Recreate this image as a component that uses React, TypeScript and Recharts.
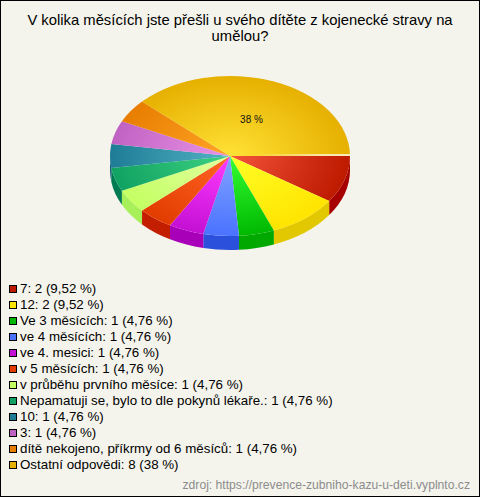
import { PieChart, Pie, Legend } from "recharts";

const categories = [
  "7", "12", "Ve 3 měsících", "ve 4 měsících", "ve 4. mesici", "v 5 měsících",
  "v průběhu prvního měsíce", "Nepamatuji se, bylo to dle pokynů lékaře.", "10", "3",
  "dítě nekojeno, příkrmy od 6 měsíců", "Ostatní odpovědi",
];
const values = [2, 2, 1, 1, 1, 1, 1, 1, 1, 1, 1, 8];
const percents = ["9,52", "9,52", "4,76", "4,76", "4,76", "4,76", "4,76", "4,76", "4,76", "4,76", "4,76", "38"];

const rimColors = ["#bd1a00", "#ffe400", "#00b800", "#4a72ff", "#c410d4", "#e23c00", "#c4ff62", "#10a262", "#1f7c96", "#c062c2", "#e87e00", "#e6b000"];
const coreColors = ["#f4543a", "#ffff26", "#34ff34", "#82a4ff", "#ff3cff", "#ff6626", "#e2ffa2", "#3ed282", "#52b2c4", "#ea94e8", "#ffa428", "#ffe236"];
const wallColors = ["#a60000", "#e2c800", "#00a800", "#2a50dc", "#a800b8", "#c41e00", "#a8f05a", "#007a50", "#105a78", "#9a4aa0", "#c86400", "#c89800"];

const tableData = categories.map((name, idx) => ({ name, value: values[idx], idx }));

const FONT = "'Liberation Sans', Arial, sans-serif";
const SQUASH = 0.667;
const DEPTH = 14;

function point(cx: number, cy: number, r: number, deg: number) {
  const a = (deg * Math.PI) / 180;
  return { x: cx + r * Math.cos(a), y: cy + r * SQUASH * Math.sin(a) };
}

// recharts angles run counter-clockwise, flip to clockwise screen degrees
function SliceShape(props: any) {
  const { cx, cy, outerRadius, startAngle, endAngle } = props;
  const idx = props.idx ?? props.payload?.idx ?? 0;
  const r = outerRadius;
  const a0 = Math.min(-startAngle, -endAngle);
  const a1 = Math.max(-startAngle, -endAngle);
  const p0 = point(cx, cy, r, a0);
  const p1 = point(cx, cy, r, a1);
  const large = a1 - a0 > 180 ? 1 : 0;
  const ry = r * SQUASH;
  const top = `M${cx},${cy} L${p0.x},${p0.y} A${r},${ry} 0 ${large} 1 ${p1.x},${p1.y} Z`;

  // side wall only shows on the front half
  const w0 = Math.max(a0, 0);
  const w1 = Math.min(a1, 180);
  let wall = null;
  if (w1 > w0) {
    const q0 = point(cx, cy, r, w0);
    const q1 = point(cx, cy, r, w1);
    wall = (
      <path
        d={`M${q0.x},${q0.y} A${r},${ry} 0 0 1 ${q1.x},${q1.y} L${q1.x},${q1.y + DEPTH} A${r},${ry} 0 0 0 ${q0.x},${q0.y + DEPTH} Z`}
        fill={wallColors[idx]}
      />
    );
  }
  const gradId = `slice-${idx}`;
  const isLast = idx === values.length - 1;
  return (
    <g>
      <defs>
        <radialGradient
          id={gradId}
          gradientUnits="userSpaceOnUse"
          cx={cx}
          cy={cy}
          r={r}
          gradientTransform={`translate(${cx} ${cy}) scale(1 ${SQUASH}) translate(${-cx} ${-cy})`}
        >
          <stop offset="0%" stopColor={coreColors[idx]} />
          <stop offset="100%" stopColor={rimColors[idx]} />
        </radialGradient>
        {isLast && (
          <linearGradient id="gapLine" gradientUnits="userSpaceOnUse" x1={cx + r * 0.2} y1={0} x2={cx + r} y2={0}>
            <stop offset="0%" stopColor="#fff" stopOpacity={0} />
            <stop offset="70%" stopColor="#fff" stopOpacity={0.85} />
            <stop offset="100%" stopColor="#fff" stopOpacity={1} />
          </linearGradient>
        )}
      </defs>
      {wall}
      <path d={top} fill={`url(#${gradId})`} />
      {isLast && <line x1={cx + r * 0.2} y1={cy - 1} x2={cx + r} y2={cy - 1} stroke="url(#gapLine)" strokeWidth={1.3} />}
    </g>
  );
}

function SliceLabel(props: any) {
  const { cx, cy, outerRadius, midAngle } = props;
  const idx = props.idx ?? props.payload?.idx ?? 0;
  if (idx !== values.length - 1) return null;
  const a = (midAngle * Math.PI) / 180;
  const x = cx + outerRadius * 0.49 * Math.cos(a);
  const y = cy - outerRadius * 0.49 * SQUASH * Math.sin(a);
  return (
    <text x={x} y={y} textAnchor="middle" dominantBaseline="central" fontFamily={FONT} fontSize={10} fill="#111">
      {percents[idx]} %
    </text>
  );
}

function LegendList() {
  return (
    <div style={{ fontFamily: FONT, fontSize: 13.33, color: "#000", lineHeight: "16px" }}>
      {categories.map((name, i) => (
        <div key={name} style={{ display: "flex", alignItems: "center", height: 16, whiteSpace: "nowrap" }}>
          <span style={{ width: 6, height: 6, background: rimColors[i], border: "1px solid #000", marginRight: 3, flex: "none" }} />
          {`${name}: ${values[i]} (${percents[i]} %)`}
        </div>
      ))}
    </div>
  );
}

export default function App() {
  return (
    <div style={{ position: "absolute", left: 0, top: 0, width: 480, height: 497, boxSizing: "border-box", border: "1px solid #000", background: "#f4f4ec", overflow: "hidden" }}>
      <div style={{ position: "absolute", left: -1, top: 11, width: 480, textAlign: "center", fontFamily: FONT, fontSize: 14.8, lineHeight: "16px", color: "#000" }}>
        V kolika měsících jste přešli u svého dítěte z kojenecké stravy na<br />umělou?
      </div>
      <div style={{ position: "absolute", left: -1, top: -1 }}>
        <PieChart width={480} height={497} margin={{ top: 0, right: 0, bottom: 0, left: 0 }}>
          <Pie
            data={tableData}
            dataKey="value"
            nameKey="name"
            cx={230}
            cy={156}
            outerRadius={120}
            startAngle={0}
            endAngle={-360}
            paddingAngle={0}
            stroke="none"
            isAnimationActive={false}
            labelLine={false}
            label={SliceLabel}
            shape={SliceShape}
            inactiveShape={SliceShape}
          />
          <Legend
            content={<LegendList />}
            layout="horizontal"
            align="left"
            verticalAlign="bottom"
            wrapperStyle={{ left: 9, top: 281, bottom: "auto", width: 400 }}
          />
        </PieChart>
      </div>
      <div style={{ position: "absolute", right: 9, top: 477, fontFamily: FONT, fontSize: 12.15, color: "#8c8c8c", whiteSpace: "nowrap" }}>
        zdroj: https://prevence-zubniho-kazu-u-deti.vyplnto.cz
      </div>
    </div>
  );
}
